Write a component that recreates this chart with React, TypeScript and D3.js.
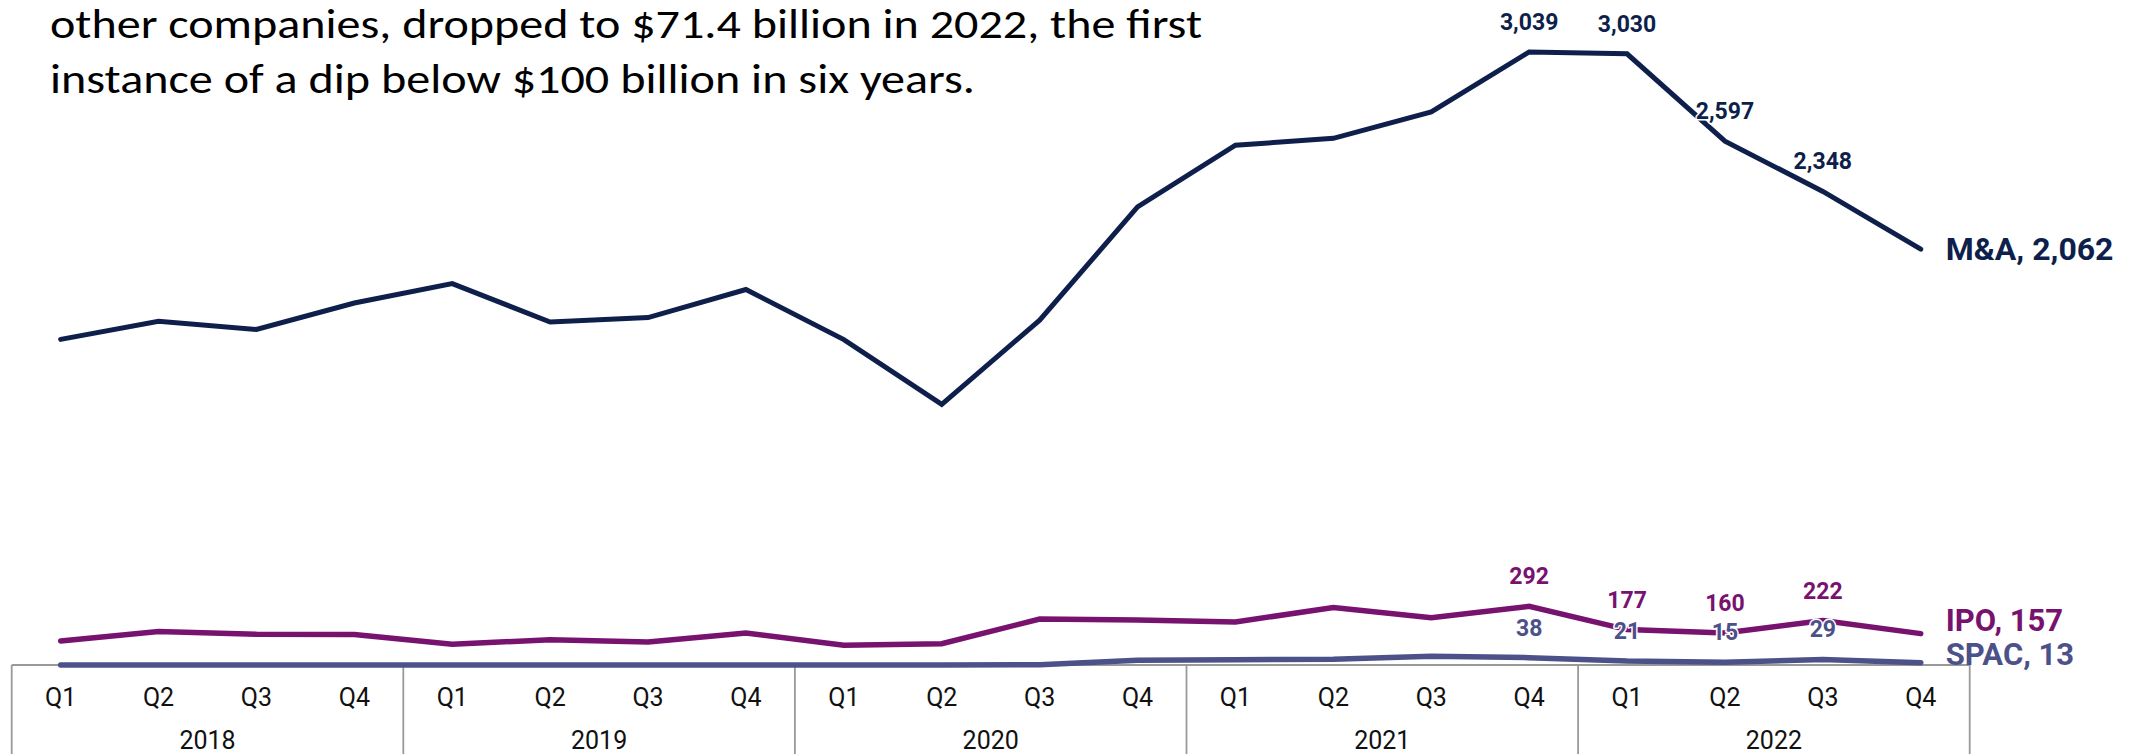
import React from 'react';
import * as d3 from 'd3';

const quarters = ['Q1', 'Q2', 'Q3', 'Q4'];
const years = ['2018', '2019', '2020', '2021', '2022'];
const categories = years.flatMap((yr) => quarters.map((q) => `${q} ${yr}`));

const maValues = [1615, 1705, 1664, 1795, 1891, 1701, 1723, 1862, 1614, 1293, 1710, 2271, 2577, 2611, 2742, 3039, 3030, 2597, 2348, 2062];
const ipoValues = [120, 168, 154, 152, 104, 127, 115, 160, 99, 107, 229, 224, 215, 286, 236, 292, 177, 160, 222, 157];
const spacValues = [1, 1, 2, 2, 2, 2, 2, 2, 2, 2, 3, 25, 28, 30, 45, 38, 21, 15, 29, 13];

const labeledIndices = [15, 16, 17, 18];
const seriesNames = ['M&A', 'IPO', 'SPAC'];

const titleLines = [
  'other companies, dropped to $71.4 billion in 2022, the first',
  'instance of a dip below $100 billion in six years.',
];

export default function App() {
  const W = 2133;
  const H = 754;
  const x = d3.scaleBand<string>().domain(categories).range([11.7, 1969.7]).padding(0);
  const bw = x.bandwidth();
  const cx = (i: number) => (x(categories[i]) as number) + bw / 2;
  const y = d3.scaleLinear().domain([0, 3300]).range([665.3, -0.7]);
  const line = d3
    .line<number>()
    .x((_, i) => cx(i))
    .y((d) => y(d));

  const series = [
    { name: seriesNames[0], values: maValues, color: '#0e1f4b', width: 5, labelSize: 32, labelDy: 0, dataSize: 23 },
    { name: seriesNames[1], values: ipoValues, color: '#77126f', width: 5.5, labelSize: 31, labelDy: -13, dataSize: 23 },
    { name: seriesNames[2], values: spacValues, color: '#4d5189', width: 5.5, labelSize: 31, labelDy: -9, dataSize: 23 },
  ];

  const fmt = d3.format(',');
  const axisTop = 665;
  const boundaries = d3.range(0, years.length + 1).map((k) => 11.7 + k * 4 * bw);

  return (
    <svg
      width={W}
      height={H}
      viewBox={`0 0 ${W} ${H}`}
      style={{ position: 'absolute', left: 0, top: 0, display: 'block', background: '#fff' }}
    >
      <rect x={0} y={0} width={W} height={H} fill="#fff" />
      {titleLines.map((t, i) => (
        <text
          key={i}
          x={50}
          y={38 + i * 55}
          fontFamily="Carlito, 'Open Sans', sans-serif"
          fontSize={41}
          fill="#000"
          textLength={i === 0 ? 1152 : 925}
          lengthAdjust="spacingAndGlyphs"
        >
          {t}
        </text>
      ))}

      {/* axis box */}
      <g stroke="#999" strokeWidth={1.8} fill="none">
        <line x1={boundaries[0]} x2={boundaries[boundaries.length - 1]} y1={axisTop} y2={axisTop} />
        {boundaries.map((bx, i) => (
          <line key={i} x1={bx} x2={bx} y1={axisTop} y2={H + 5} />
        ))}
      </g>
      <g fontFamily="Roboto, 'Liberation Sans', sans-serif" fontSize={25} fill="#111" textAnchor="middle">
        {categories.map((c, i) => (
          <text key={c} x={cx(i)} y={706}>
            {quarters[i % 4]}
          </text>
        ))}
        {years.map((yr, k) => (
          <text key={yr} x={(boundaries[k] + boundaries[k + 1]) / 2} y={749}>
            {yr}
          </text>
        ))}
      </g>

      {/* lines */}
      {series
        .slice()
        .reverse()
        .map((s) => (
          <path
            key={s.name}
            d={line(s.values) as string}
            fill="none"
            stroke={s.color}
            strokeWidth={s.width}
            strokeLinecap="round"
            strokeLinejoin="miter"
          />
        ))}

      {/* data labels */}
      {series.map((s) => (
        <g key={s.name + '-labels'} fontFamily="Roboto, 'Liberation Sans', sans-serif" fontWeight={700} fill={s.color} textAnchor="middle">
          {labeledIndices.map((i) => (
            <text
              key={i}
              x={cx(i)}
              y={y(s.values[i]) - 30}
              dy="0.35em"
              fontSize={s.dataSize}
              stroke="#fff"
              strokeWidth={3}
              paintOrder="stroke"
              strokeLinejoin="round"
            >
              {fmt(s.values[i])}
            </text>
          ))}
        </g>
      ))}

      {/* series end labels */}
      {series.map((s) => {
        const last = s.values.length - 1;
        return (
          <text
            key={s.name + '-end'}
            x={cx(last) + 25}
            y={y(s.values[last]) + s.labelDy}
            dy="0.35em"
            fontFamily="Roboto, 'Liberation Sans', sans-serif"
            fontWeight={700}
            fontSize={s.labelSize}
            fill={s.color}
          >
            {`${s.name}, ${fmt(s.values[last])}`}
          </text>
        );
      })}
    </svg>
  );
}
